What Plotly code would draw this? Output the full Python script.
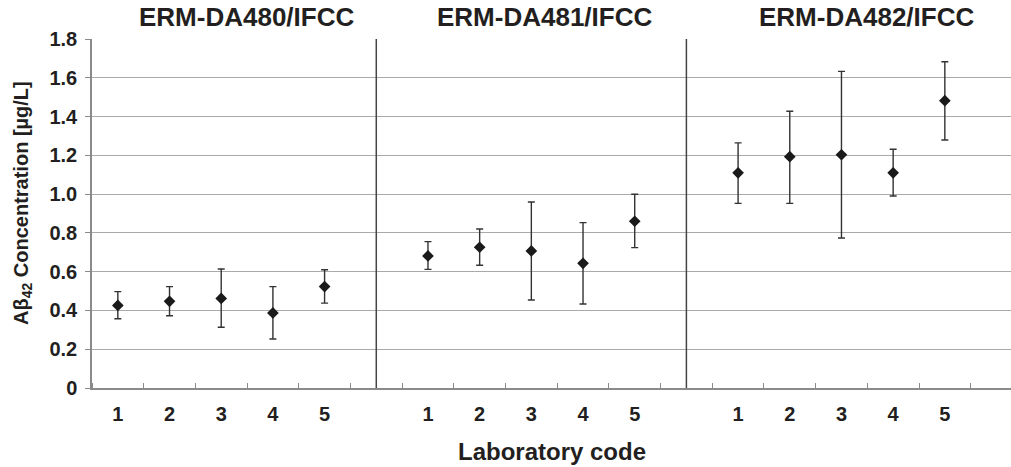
import plotly.graph_objects as go

# ---- data ----
panels = ["ERM-DA480/IFCC", "ERM-DA481/IFCC", "ERM-DA482/IFCC"]
lab_codes = ["1", "2", "3", "4", "5"]

mean_480 = [0.426, 0.447, 0.462, 0.387, 0.523]
upper_480 = [0.497, 0.523, 0.614, 0.523, 0.610]
lower_480 = [0.357, 0.373, 0.313, 0.253, 0.438]

mean_481 = [0.681, 0.726, 0.707, 0.643, 0.860]
upper_481 = [0.755, 0.820, 0.959, 0.853, 0.999]
lower_481 = [0.612, 0.633, 0.454, 0.433, 0.724]

mean_482 = [1.110, 1.193, 1.203, 1.110, 1.482]
upper_482 = [1.264, 1.427, 1.633, 1.231, 1.683]
lower_482 = [0.952, 0.952, 0.774, 0.990, 1.279]

y_ticks = [0, 0.2, 0.4, 0.6, 0.8, 1.0, 1.2, 1.4, 1.6, 1.8]
y_ticktext = ["0", "0.2", "0.4", "0.6", "0.8", "1.0", "1.2", "1.4", "1.6", "1.8"]

means = [mean_480, mean_481, mean_482]
uppers = [upper_480, upper_481, upper_482]
lowers = [lower_480, lower_481, lower_482]

FONT = "Liberation Sans, Arial, Helvetica, sans-serif"
TXT = "#231f20"

fig = go.Figure()
xs_all, xt_all = [], []
for p in range(3):
    offset = p * 6
    xs = [offset + i + 1 for i in range(len(lab_codes))]
    xs_all += xs
    xt_all += lab_codes
    m = means[p]
    plus = [u - v for u, v in zip(uppers[p], m)]
    minus = [v - l for v, l in zip(m, lowers[p])]
    fig.add_trace(go.Scatter(
        x=xs, y=m, mode="markers",
        marker=dict(symbol="diamond", size=9, color="#1a1a1a"),
        error_y=dict(type="data", symmetric=False, array=plus, arrayminus=minus,
                     color="#333333", thickness=1.4, width=3.5),
        showlegend=False,
    ))

# panel dividers
for xd in [6, 12]:
    fig.add_shape(type="line", xref="x", yref="y", x0=xd, x1=xd, y0=0, y1=1.8,
                  line=dict(color="#444444", width=1.5))

# panel titles
title_x = [3.49, 9.25, 15.48]
for t, xx in zip(panels, title_x):
    fig.add_annotation(text=t, x=xx, xref="x", y=1.063, yref="paper",
                       showarrow=False, xanchor="center", yanchor="middle",
                       font=dict(family=FONT, size=26, color=TXT, weight="bold"))

# axis titles
fig.add_annotation(text="Laboratory code", x=0.5, xref="paper", y=-0.183, yref="paper",
                   showarrow=False, xanchor="center", yanchor="middle",
                   font=dict(family=FONT, size=24, color=TXT, weight="bold"))
fig.add_annotation(text="Aβ<sub>42</sub> Concentration [µg/L]", x=-0.0762, xref="paper",
                   y=0.53, yref="paper", textangle=-90, showarrow=False,
                   xanchor="center", yanchor="middle",
                   font=dict(family=FONT, size=20, color=TXT, weight="bold"))

fig.update_layout(
    width=1011, height=467,
    margin=dict(l=92, r=0, t=39, b=79),
    paper_bgcolor="white", plot_bgcolor="white",
    font=dict(family=FONT, color=TXT),
    xaxis=dict(range=[0.5, 18.28], tickmode="array", tickvals=xs_all, ticktext=xt_all,
               ticks="", showgrid=False, zeroline=False,
               showline=True, linecolor="#8a8a8a", linewidth=1.5,
               tickfont=dict(family=FONT, size=20, color=TXT, weight="bold"),
               ticklabelstandoff=7,
               minor=dict(tickmode="linear", tick0=0.5, dtick=1, ticks="inside",
                          ticklen=5, tickcolor="#8a8a8a", tickwidth=1, showgrid=False)),
    yaxis=dict(range=[0, 1.8], tickmode="array", tickvals=y_ticks, ticktext=y_ticktext,
               showgrid=True, gridcolor="#aaaaaa", gridwidth=1.2, zeroline=False,
               showline=True, linecolor="#8a8a8a", linewidth=1.5,
               ticks="outside", ticklen=5, tickcolor="#8a8a8a",
               tickfont=dict(family=FONT, size=20, color=TXT, weight="bold"),
               ticklabelstandoff=4),
)

fig.write_html("out.html", config={"displayModeBar": False},
               post_script="document.body.style.margin='0';")
